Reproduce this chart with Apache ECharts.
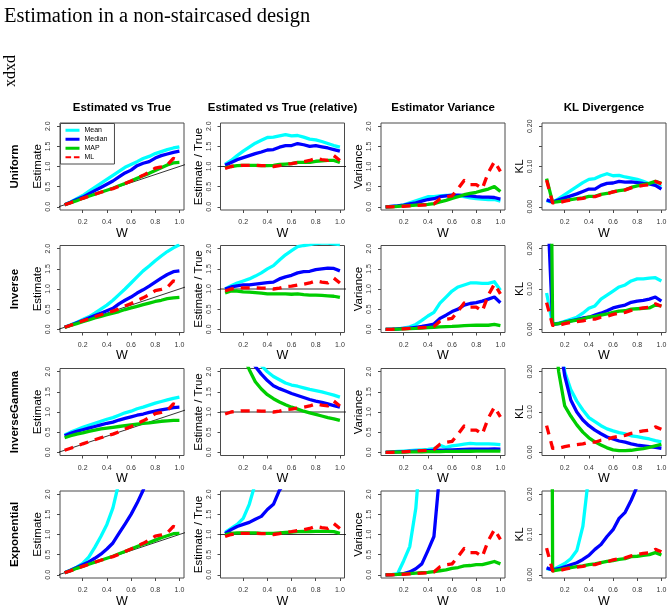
<!DOCTYPE html>
<html><head><meta charset="utf-8">
<script src="https://cdn.jsdelivr.net/npm/echarts@6/dist/echarts.min.js"></script>
<style>html,body{margin:0;padding:0;background:#fff}#c{width:671px;height:609px}</style>
</head><body><div id="c"></div>
<script>
// ---------- data ----------
const W = [0.05,0.10,0.15,0.20,0.25,0.30,0.35,0.40,0.45,0.50,0.55,0.60,0.65,0.70,0.75,0.80,0.85,0.90,0.95,1.00];

// ML (identical in every row)
const mlEst = [0.05,0.10,0.15,0.21,0.26,0.31,0.36,0.41,0.45,0.51,0.58,0.64,0.71,0.78,0.86,0.96,0.99,1.04,1.20,1.15];
const mlRel = [0.95,1.00,1.02,1.03,1.03,1.03,1.02,1.02,1.00,1.02,1.06,1.07,1.10,1.12,1.15,1.20,1.17,1.15,1.27,1.15];
const mlVar = [0.00,0.00,0.01,0.01,0.02,0.03,0.04,0.05,0.07,0.20,0.25,0.27,0.45,0.65,0.55,0.55,0.45,0.85,1.12,0.88];
const mlKL  = [0.066,0.010,0.010,0.014,0.017,0.019,0.021,0.025,0.025,0.030,0.032,0.037,0.040,0.042,0.047,0.050,0.053,0.055,0.063,0.057];

// Uniform
const uniEstMean   = [0.05,0.12,0.20,0.28,0.38,0.48,0.58,0.68,0.78,0.88,0.98,1.05,1.12,1.20,1.25,1.32,1.37,1.42,1.46,1.49];
const uniEstMedian = [0.05,0.11,0.18,0.24,0.32,0.40,0.48,0.56,0.64,0.74,0.84,0.91,1.02,1.08,1.12,1.21,1.27,1.31,1.35,1.38];
const uniEstMAP    = [0.05,0.10,0.15,0.21,0.26,0.31,0.36,0.41,0.46,0.52,0.58,0.64,0.71,0.77,0.83,0.90,0.97,1.04,1.09,1.10];
const uniRelMean   = [1.05,1.15,1.27,1.38,1.48,1.58,1.65,1.72,1.73,1.76,1.79,1.76,1.77,1.73,1.68,1.66,1.62,1.57,1.52,1.48];
const uniRelMedian = [1.03,1.10,1.17,1.22,1.27,1.32,1.36,1.41,1.42,1.48,1.52,1.52,1.57,1.54,1.50,1.52,1.49,1.46,1.42,1.38];
const uniRelMAP    = [0.97,1.00,1.02,1.03,1.03,1.03,1.02,1.02,1.03,1.05,1.06,1.07,1.10,1.10,1.10,1.13,1.14,1.15,1.15,1.10];
const uniVarMean   = [0.00,0.01,0.02,0.05,0.10,0.15,0.20,0.25,0.25,0.27,0.28,0.28,0.27,0.25,0.22,0.20,0.19,0.18,0.18,0.14];
const uniVarMedian = [0.00,0.01,0.02,0.04,0.07,0.10,0.14,0.18,0.20,0.25,0.27,0.29,0.29,0.28,0.27,0.25,0.24,0.24,0.23,0.19];
const uniVarMAP    = [0.00,0.00,0.01,0.02,0.03,0.04,0.05,0.06,0.08,0.12,0.16,0.21,0.25,0.30,0.33,0.36,0.40,0.44,0.50,0.38];
const uniKLMean    = [0.015,0.011,0.020,0.030,0.040,0.050,0.060,0.068,0.070,0.077,0.082,0.077,0.078,0.074,0.071,0.068,0.063,0.057,0.055,0.050];
const uniKLMedian  = [0.017,0.012,0.017,0.022,0.027,0.032,0.038,0.044,0.044,0.053,0.058,0.059,0.063,0.061,0.062,0.060,0.058,0.057,0.053,0.044];
const uniKLMAP     = [0.070,0.011,0.013,0.015,0.018,0.020,0.022,0.026,0.026,0.031,0.033,0.037,0.040,0.042,0.048,0.052,0.055,0.058,0.063,0.058];

// Inverse
const invEstMean   = [0.05,0.11,0.17,0.24,0.31,0.40,0.50,0.60,0.72,0.86,1.00,1.15,1.30,1.45,1.57,1.70,1.82,1.93,2.02,2.10];
const invEstMedian = [0.05,0.10,0.16,0.22,0.28,0.34,0.40,0.46,0.52,0.63,0.72,0.80,0.90,0.98,1.07,1.17,1.27,1.36,1.43,1.45];
const invEstMAP    = [0.045,0.095,0.14,0.19,0.23,0.28,0.32,0.36,0.40,0.44,0.49,0.53,0.57,0.61,0.65,0.69,0.72,0.76,0.78,0.79];
const invRelMean   = [1.00,1.08,1.15,1.20,1.25,1.32,1.40,1.50,1.58,1.72,1.85,1.95,2.05,2.08,2.10,2.13,2.14,2.14,2.12,2.10];
const invRelMedian = [1.00,1.05,1.08,1.10,1.10,1.12,1.14,1.16,1.17,1.25,1.30,1.34,1.40,1.43,1.44,1.48,1.50,1.52,1.51,1.45];
const invRelMAP    = [0.90,0.95,0.95,0.93,0.92,0.91,0.90,0.88,0.88,0.88,0.88,0.87,0.88,0.86,0.85,0.85,0.84,0.83,0.82,0.79];
const invVarMean   = [0.00,0.005,0.01,0.03,0.06,0.12,0.22,0.33,0.42,0.65,0.80,0.95,1.05,1.10,1.15,1.15,1.14,1.14,1.18,0.97];
const invVarMedian = [0.00,0.00,0.01,0.02,0.03,0.05,0.07,0.10,0.13,0.27,0.35,0.44,0.50,0.60,0.64,0.66,0.70,0.75,0.80,0.66];
const invVarMAP    = [0.00,0.00,0.005,0.01,0.015,0.02,0.03,0.04,0.05,0.06,0.065,0.07,0.08,0.09,0.095,0.10,0.10,0.10,0.12,0.09];
const invKLMean    = [0.090,0.012,0.015,0.020,0.025,0.030,0.040,0.052,0.058,0.075,0.085,0.095,0.105,0.110,0.120,0.125,0.125,0.127,0.128,0.120];
const invKLMedian  = [0.36,0.012,0.014,0.018,0.021,0.024,0.028,0.030,0.035,0.040,0.046,0.053,0.057,0.060,0.067,0.070,0.072,0.075,0.080,0.070];
const invKLMAP     = [1.50,0.012,0.014,0.017,0.020,0.023,0.026,0.030,0.032,0.035,0.038,0.042,0.045,0.046,0.050,0.051,0.052,0.053,0.060,0.058];

// InverseGamma
const igEstMean    = [0.43,0.50,0.56,0.62,0.67,0.72,0.77,0.82,0.86,0.92,0.98,1.02,1.08,1.12,1.17,1.22,1.26,1.30,1.34,1.37];
const igEstMedian  = [0.41,0.47,0.52,0.56,0.60,0.64,0.68,0.72,0.75,0.80,0.84,0.88,0.92,0.95,0.99,1.02,1.05,1.08,1.11,1.12];
const igEstMAP     = [0.36,0.41,0.45,0.48,0.52,0.55,0.58,0.60,0.62,0.64,0.66,0.68,0.70,0.72,0.73,0.75,0.77,0.78,0.79,0.79];
const igRelMean    = [8.6,5.0,3.7,3.1,2.7,2.4,2.15,2.0,1.88,1.80,1.72,1.67,1.64,1.60,1.56,1.53,1.50,1.46,1.42,1.37];
const igRelMedian  = [8.2,4.7,3.47,2.8,2.4,2.13,1.94,1.78,1.65,1.58,1.52,1.46,1.41,1.36,1.31,1.27,1.24,1.20,1.16,1.12];
const igRelMAP     = [7.2,4.1,3.0,2.4,2.05,1.75,1.57,1.43,1.33,1.25,1.18,1.12,1.07,1.02,0.98,0.94,0.90,0.86,0.83,0.79];
const igVarMean    = [0.00,0.01,0.02,0.03,0.04,0.05,0.06,0.07,0.09,0.17,0.12,0.16,0.18,0.20,0.22,0.21,0.21,0.21,0.20,0.19];
const igVarMedian  = [0.00,0.005,0.01,0.015,0.02,0.025,0.03,0.04,0.045,0.05,0.055,0.06,0.065,0.07,0.075,0.075,0.08,0.08,0.085,0.08];
const igVarMAP     = [0.00,0.002,0.004,0.006,0.008,0.01,0.012,0.014,0.016,0.018,0.02,0.022,0.024,0.025,0.026,0.027,0.028,0.029,0.03,0.03];
const igKLMean     = [0.90,0.50,0.33,0.20,0.156,0.127,0.105,0.086,0.076,0.066,0.058,0.053,0.049,0.046,0.041,0.039,0.036,0.033,0.029,0.026];
const igKLMedian   = [0.80,0.45,0.29,0.19,0.13,0.10,0.08,0.066,0.055,0.046,0.038,0.033,0.028,0.025,0.021,0.018,0.016,0.014,0.012,0.010];
const igKLMAP      = [0.70,0.35,0.20,0.115,0.09,0.068,0.05,0.036,0.026,0.018,0.011,0.006,0.004,0.004,0.005,0.007,0.009,0.012,0.016,0.020];

// Exponential
const expEstMean   = [0.05,0.12,0.19,0.28,0.44,0.68,0.95,1.25,1.66,2.30,3.0,3.8,4.8,6.0,7.2,8.5,10.0,12.0,14.0,16.0];
const expEstMedian = [0.05,0.11,0.18,0.25,0.32,0.41,0.51,0.64,0.79,1.03,1.26,1.50,1.78,2.10,2.50,3.0,3.5,4.0,4.6,5.2];
const expEstMAP    = [0.05,0.10,0.16,0.21,0.26,0.31,0.36,0.41,0.46,0.52,0.58,0.64,0.70,0.76,0.80,0.86,0.92,0.97,1.02,1.03];
const expRelMean   = [1.05,1.15,1.25,1.40,1.75,2.27,2.7,3.1,3.7,4.6,5.5,6.3,7.4,8.6,9.6,10.6,11.8,13.3,14.7,16.0];
const expRelMedian = [1.02,1.12,1.20,1.25,1.30,1.38,1.45,1.62,1.75,2.10,2.3,2.5,2.7,3.0,3.3,3.75,4.1,4.4,4.8,5.2];
const expRelMAP    = [1.00,1.03,1.04,1.04,1.04,1.04,1.03,1.03,1.03,1.04,1.05,1.06,1.07,1.08,1.07,1.08,1.08,1.08,1.07,1.03];
const expVarMean   = [0.00,0.005,0.03,0.35,0.70,1.65,3.5,6.0,9.0,12.0,15.0,18.0,21.0,24.0,27.0,30.0,33.0,36.0,39.0,42.0];
const expVarMedian = [0.00,0.005,0.01,0.03,0.07,0.15,0.27,0.60,0.95,2.6,4.0,5.5,7.0,8.8,10.5,12.5,14.5,16.8,19.0,21.5];
const expVarMAP    = [0.00,0.005,0.01,0.02,0.03,0.04,0.05,0.06,0.08,0.10,0.12,0.16,0.18,0.22,0.23,0.25,0.25,0.29,0.33,0.27];
const expKLMean    = [0.015,0.012,0.020,0.028,0.040,0.060,0.120,0.250,0.40,0.55,0.72,0.90,1.10,1.30,1.50,1.70,1.90,2.10,2.30,2.50];
const expKLMedian  = [0.017,0.012,0.015,0.020,0.025,0.030,0.038,0.048,0.063,0.075,0.095,0.112,0.140,0.155,0.185,0.22,0.26,0.30,0.34,0.38];
const expKLMAP     = [4.0,0.010,0.012,0.015,0.018,0.020,0.022,0.025,0.027,0.030,0.033,0.035,0.038,0.040,0.045,0.046,0.048,0.050,0.055,0.049];

// labels / ticks
const rowNames   = ['Uniform','Inverse','InverseGamma','Exponential'];
const colTitles  = ['Estimated vs True','Estimated vs True (relative)','Estimator Variance','KL Divergence'];
const yNames     = ['Estimate','Estimate / True','Variance','KL'];
const seriesNames = ['Mean','Median','MAP','ML'];
const xTicks     = [0.2,0.4,0.6,0.8,1.0];
const yTicksMain = [0,0.5,1.0,1.5,2.0];
const yTicksKL   = [0,0.05,0.10,0.15,0.20];
const yLabelsKL  = [0,0.10,0.20];
const mainTitle  = 'Estimation in a non-staircased design';
const sideText   = 'xdxd';

// ---------- layout / style ----------
const panels = [
  [[uniEstMean,uniEstMedian,uniEstMAP,mlEst],[uniRelMean,uniRelMedian,uniRelMAP,mlRel],[uniVarMean,uniVarMedian,uniVarMAP,mlVar],[uniKLMean,uniKLMedian,uniKLMAP,mlKL]],
  [[invEstMean,invEstMedian,invEstMAP,mlEst],[invRelMean,invRelMedian,invRelMAP,mlRel],[invVarMean,invVarMedian,invVarMAP,mlVar],[invKLMean,invKLMedian,invKLMAP,mlKL]],
  [[igEstMean,igEstMedian,igEstMAP,mlEst],[igRelMean,igRelMedian,igRelMAP,mlRel],[igVarMean,igVarMedian,igVarMAP,mlVar],[igKLMean,igKLMedian,igKLMAP,mlKL]],
  [[expEstMean,expEstMedian,expEstMAP,mlEst],[expRelMean,expRelMedian,expRelMAP,mlRel],[expVarMean,expVarMedian,expVarMAP,mlVar],[expKLMean,expKLMedian,expKLMAP,mlKL]]
];
const LEFTS = [60, 220.5, 381, 542];
const TOPS  = [123, 245.5, 368.5, 491];
const PW = 124, PH = 87;
const COLORS = ['#00FFFF','#0000FF','#00CD00','#FF0000'];
const FONT = 'Liberation Sans, Arial, sans-serif';
const ICONS = ['rect','rect','rect','path://M0,0h6v2h-6zM9,0h6v2h-6z'];

const grids = [], xAxes = [], yAxes = [], series = [], graphics = [];
let gi = 0;
for (let r = 0; r < 4; r++) {
  for (let c = 0; c < 4; c++) {
    const isKL = c === 3;
    grids.push({left: LEFTS[c], top: TOPS[r], width: PW, height: PH, show: true,
      borderColor: '#4a4a4a', borderWidth: 1, backgroundColor: 'transparent', containLabel: false});
    xAxes.push({type: 'value', gridIndex: gi, min: 0.012, max: 1.038,
      axisLine: {show: false, onZero: false},
      axisTick: {show: true, length: 3, customValues: xTicks, lineStyle: {color: '#4a4a4a'}},
      axisLabel: {show: true, customValues: xTicks, fontSize: 7, color: '#333', margin: 9, fontFamily: FONT,
        formatter: v => v.toFixed(1)},
      splitLine: {show: false},
      name: 'W', nameLocation: 'middle', nameGap: 17,
      nameTextStyle: {fontSize: 12.5, color: '#000', fontFamily: FONT}});
    const yt = isKL ? yTicksKL : yTicksMain;
    const yl = isKL ? yLabelsKL : yTicksMain;
    yAxes.push({type: 'value', gridIndex: gi,
      min: isKL ? -0.008 : -0.08, max: isKL ? 0.208 : 2.08,
      axisLine: {show: false, onZero: false},
      axisTick: {show: true, length: 3, customValues: yt, lineStyle: {color: '#4a4a4a'}},
      axisLabel: {show: true, customValues: yl, rotate: 90, fontSize: 7, color: '#333', margin: 8, fontFamily: FONT,
        formatter: v => isKL ? v.toFixed(2) : v.toFixed(1)},
      splitLine: {show: false},
      name: yNames[c], nameLocation: 'middle', nameGap: 14,
      nameTextStyle: {fontSize: 11.5, color: '#000', fontFamily: FONT}});
    // reference line
    if (c === 0) {
      series.push({type: 'line', xAxisIndex: gi, yAxisIndex: gi, data: [[-0.2,-0.2],[1.2,1.2]],
        symbol: 'none', silent: true, lineStyle: {color: '#000', width: 0.8}, clip: true, z: 1});
    } else if (c === 1) {
      series.push({type: 'line', xAxisIndex: gi, yAxisIndex: gi, data: [[-0.2,1],[1.2,1]],
        symbol: 'none', silent: true, lineStyle: {color: '#000', width: 0.8}, clip: true, z: 1});
    }
    panels[r][c].forEach((arr, k) => {
      series.push({type: 'line', name: seriesNames[k], xAxisIndex: gi, yAxisIndex: gi,
        data: W.map((w, i) => [w, arr[i]]),
        symbol: 'none', showSymbol: false, clip: true, silent: true, z: 2 + k,
        color: COLORS[k], itemStyle: {color: COLORS[k]},
        lineStyle: {color: COLORS[k], width: 3.3, type: k === 3 ? [9, 7] : 'solid', cap: 'butt', join: 'round'}});
    });
    gi++;
  }
}
// column titles
colTitles.forEach((t, c) => graphics.push({type: 'text', x: LEFTS[c] + PW / 2, y: 108,
  style: {text: t, font: 'bold 11.5px ' + FONT, fill: '#000', textAlign: 'center', textVerticalAlign: 'middle'}}));
// row labels
rowNames.forEach((t, r) => graphics.push({type: 'text', x: 15, y: TOPS[r] + PH / 2, rotation: Math.PI / 2,
  style: {text: t, font: 'bold 11.5px ' + FONT, fill: '#000', textAlign: 'center', textVerticalAlign: 'middle'}}));
graphics.push({type: 'text', x: 11, y: 71, rotation: Math.PI / 2,
  style: {text: sideText, font: '16px Liberation Serif, serif', fill: '#000', textAlign: 'center', textVerticalAlign: 'middle'}});

const option = {
  animation: false,
  backgroundColor: '#fff',
  title: {text: mainTitle, left: 4, top: 6, padding: 0,
    textStyle: {fontFamily: 'Liberation Serif, serif', fontSize: 20.5, fontWeight: 'normal', color: '#000'}},
  legend: {data: seriesNames.map((n, k) => ({name: n, icon: ICONS[k], itemStyle: {color: COLORS[k]}})),
    left: 60.5, top: 123.5, orient: 'vertical', selectedMode: false,
    itemWidth: 14, itemHeight: 3, itemGap: 1.5, padding: [3, 7, 3, 5],
    borderColor: '#4a4a4a', borderWidth: 1, backgroundColor: '#fff',
    textStyle: {fontSize: 7, color: '#000', fontFamily: FONT, lineHeight: 7.5}},
  grid: grids, xAxis: xAxes, yAxis: yAxes, series: series, graphic: graphics
};
const chart = echarts.init(document.getElementById('c'), null, {renderer: 'canvas'});
chart.setOption(option);
</script></body></html>
